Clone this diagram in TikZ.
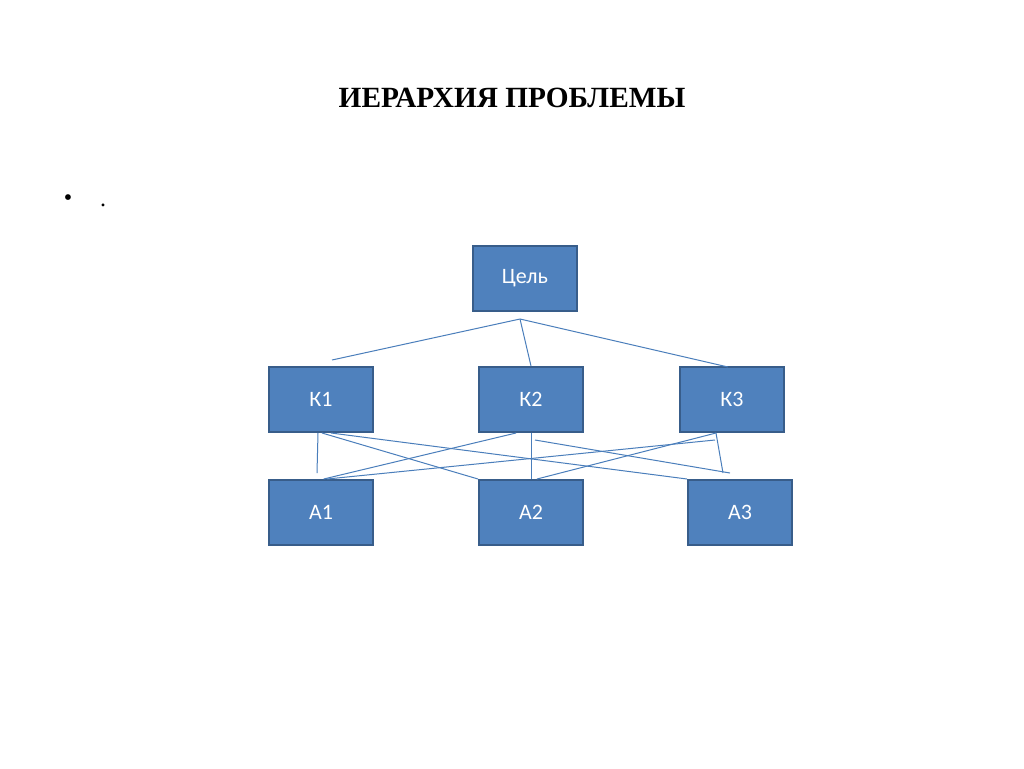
\documentclass[tikz,border=0pt]{standalone}
\usepackage{fontspec}
\setmainfont{Liberation Serif}
\newfontfamily\carl{Carlito}
\begin{document}
\begin{tikzpicture}[x=0.75pt,y=-0.75pt,
 bx/.style={draw=bd,fill=bf,line width=1.5pt,minimum width=78pt,minimum height=48.75pt,inner sep=0pt,text=white,font=\carl\fontsize{16.5}{18}\selectfont},
 ln/.style={draw=lc,line width=0.75pt}]
\definecolor{bf}{HTML}{4F81BD}\definecolor{bd}{HTML}{385D8A}\definecolor{lc}{HTML}{4A7EBB}
\useasboundingbox[fill=white] (0,0) rectangle (1024,768);
\node[font=\bfseries\fontsize{22}{26}\selectfont] (t) at (512,98) {ИЕРАРХИЯ ПРОБЛЕМЫ};
\node[font=\fontsize{18}{20}\selectfont] (b) at (68,200) {•};
\node[font=\fontsize{18}{20}\selectfont] (d) at (103,205) {.};
\node[bx] (g) at (525,278.5) {Цель};
\node[bx] (k1) at (321,399.5) {К1};
\node[bx] (k2) at (531,399.5) {К2};
\node[bx] (k3) at (732,399.5) {К3};
\node[bx] (a1) at (321,512.5) {А1};
\node[bx] (a2) at (531,512.5) {А2};
\node[bx] (a3) at (740,512.5) {А3};
\coordinate (p) at (520,319);
\coordinate (q1) at (332,360);
\coordinate (q3) at (728,367);
\coordinate (c1) at (317,473);
\coordinate (c2) at (535,440);
\coordinate (c3) at (730,473);
\coordinate (c4) at (715,440);
\coordinate (c5) at (723,473);
\draw[ln] (p) -- (q1);
\draw[ln] (p) -- (k2.north);
\draw[ln] (p) -- (q3);
\draw[ln] (k1.south west) ++(50,0) coordinate (k1a) (k1a) -- (c1);
\draw[ln] (k1.south west) ++(54,0) coordinate (k1b) (k1b) -- (a2.north west) ++(39,0);
\draw[ln] (k1.south west) ++(63,0) coordinate (k1c) (k1c) -- (a3.north west) ++(32,0);
\draw[ln] (k2.south west) ++(38,0) coordinate (k2a) (k2a) -- ([xshift=2pt]a1.north);
\draw[ln] (k2.south) -- (a2.north);
\draw[ln] (k3.south west) ++(37,0) coordinate (k3a) (k3a) -- ([xshift=4.5pt]a2.north);
\draw[ln] (k3a) -- (c5);
\draw[ln] (c4) -- ([xshift=4.5pt]a1.north);
\draw[ln] (c2) -- (c3);
\end{tikzpicture}
\end{document}
